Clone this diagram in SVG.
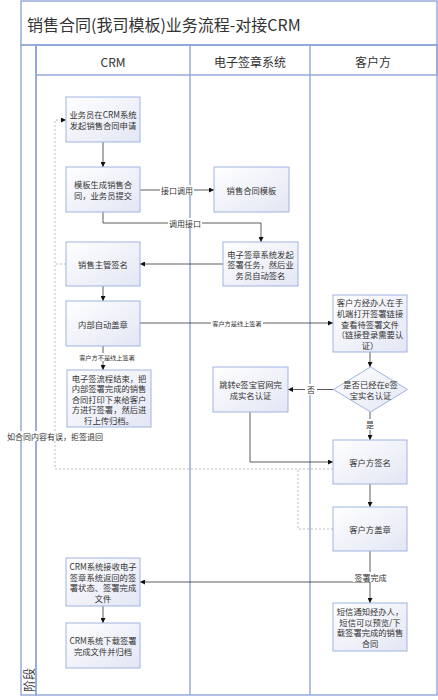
<svg xmlns="http://www.w3.org/2000/svg" width="438" height="700" viewBox="0 0 438 700">
<style>
.t{font-family:"Noto Sans CJK SC","Liberation Sans",sans-serif;fill:#333;text-anchor:middle;dominant-baseline:central}
.nt{font-size:8.3px}
.lb{font-size:8px}
.sm{font-size:6.2px}
.box{fill:url(#bg);stroke:#9fb3e2;stroke-width:1}
.lane{stroke:#8fa6d9;stroke-width:1.4;fill:none}
.c{stroke:#333;stroke-width:0.8;fill:none}
.d{stroke:#aaa;stroke-width:0.8;fill:none;stroke-dasharray:2,2}
.wb{fill:#fff}
</style>
<defs>
<linearGradient id="bg" x1="0" y1="0" x2="1" y2="1"><stop offset="0" stop-color="#ffffff"/><stop offset="1" stop-color="#e3e6f4"/></linearGradient>
<linearGradient id="tb" x1="0" y1="0" x2="1" y2="1"><stop offset="0" stop-color="#ebebf1"/><stop offset="1" stop-color="#fbfbfd"/></linearGradient>
<linearGradient id="hb" x1="0" y1="0" x2="0" y2="1"><stop offset="0" stop-color="#f1f2f8"/><stop offset="1" stop-color="#ffffff"/></linearGradient>
<marker id="a" viewBox="0 0 10 10" refX="10" refY="5" markerWidth="5" markerHeight="5" orient="auto" markerUnits="userSpaceOnUse"><path d="M0,0 L10,5 L0,10 z" fill="#111"/></marker>
</defs>
<rect x="0" y="0" width="438" height="700" fill="#fff"/>
<g id="frame">
<rect x="21" y="1" width="416" height="44" fill="url(#tb)" class="lane"/>
<text class="t" x="27" y="24" style="font-size:16px;text-anchor:start">销售合同(我司模板)业务流程-对接CRM</text>
<rect x="21" y="45" width="15" height="650" fill="#f4f5fb" class="lane"/>
<rect x="36" y="45" width="401" height="30" fill="url(#hb)" class="lane"/>
<rect x="36" y="45" width="401" height="650" class="lane"/>
<line x1="190" y1="45" x2="190" y2="695" class="lane"/>
<line x1="310" y1="45" x2="310" y2="695" class="lane"/>
<text class="t" x="113" y="61" style="font-size:12px">CRM</text>
<text class="t" x="250" y="61" style="font-size:12px">电子签章系统</text>
<text class="t" x="373" y="61" style="font-size:12px">客户方</text>
<text class="t" transform="translate(28.5,680) rotate(-90)" style="font-size:12px">阶段</text>
</g>
<g id="connectors">
<line x1="103" y1="142" x2="103" y2="167" class="c" marker-end="url(#a)"/>
<line x1="140" y1="190" x2="214" y2="190" class="c" marker-end="url(#a)"/>
<rect x="160" y="185" width="34" height="10" class="wb"/>
<text class="t lb" x="177" y="190">接口调用</text>
<polyline points="103,212 103,223 261,223 261,242" class="c" marker-end="url(#a)"/>
<rect x="168" y="218" width="34" height="10" class="wb"/>
<text class="t lb" x="185" y="223">调用接口</text>
<line x1="223" y1="264" x2="140" y2="264" class="c" marker-end="url(#a)"/>
<line x1="103" y1="286" x2="103" y2="301" class="c" marker-end="url(#a)"/>
<line x1="140" y1="323" x2="333" y2="323" class="c" marker-end="url(#a)"/>
<rect x="211" y="319" width="52" height="8" class="wb"/>
<text class="t sm" x="237" y="323">客户方是线上签署</text>
<line x1="103" y1="346" x2="103" y2="370" class="c" marker-end="url(#a)"/>
<rect x="77" y="353" width="60" height="8" class="wb"/>
<text class="t sm" x="107" y="357">客户方不是线上签署</text>
<line x1="370" y1="352" x2="370" y2="367" class="c" marker-end="url(#a)"/>
<line x1="334" y1="389.5" x2="288" y2="389.5" class="c" marker-end="url(#a)"/>
<rect x="305" y="384" width="12" height="11" class="wb"/>
<text class="t lb" x="311" y="389.5">否</text>
<line x1="370" y1="412" x2="370" y2="440" class="c" marker-end="url(#a)"/>
<rect x="364" y="419" width="12" height="11" class="wb"/>
<text class="t lb" x="370" y="424.5">是</text>
<polyline points="250,412 250,462 333,462" class="c" marker-end="url(#a)"/>
<line x1="370" y1="484" x2="370" y2="507" class="c" marker-end="url(#a)"/>
<line x1="370" y1="551" x2="370" y2="603" class="c" marker-end="url(#a)"/>
<line x1="370" y1="582" x2="140" y2="582" class="c" marker-end="url(#a)"/>
<rect x="353" y="572" width="35" height="10" class="wb"/>
<text class="t lb" x="370.5" y="577">签署完成</text>
<line x1="103" y1="606" x2="103" y2="623" class="c" marker-end="url(#a)"/>
<polyline points="333,469 55,469 55,120 66,120" class="d" marker-end="url(#a)"/>
<polyline points="333,529 298,529 298,469" class="d"/>
<line x1="66" y1="264" x2="55" y2="264" class="d"/>
<rect x="5" y="431" width="100" height="10" class="wb"/>
<text class="t lb" x="55" y="436">如合同内容有误，拒签退回</text>
</g>
<g id="n1"><rect x="66" y="97" width="74" height="45" class="box"/><text class="t nt" x="103" y="114">业务员在CRM系统</text><text class="t nt" x="103" y="125">发起销售合同申请</text></g>
<g id="n2"><rect x="66" y="167" width="74" height="45" class="box"/><text class="t nt" x="103" y="184">模板生成销售合</text><text class="t nt" x="103" y="195">同，业务员提交</text></g>
<g id="n3"><rect x="66" y="242" width="74" height="44" class="box"/><text class="t nt" x="103" y="264">销售主管签名</text></g>
<g id="n4"><rect x="66" y="301" width="74" height="45" class="box"/><text class="t nt" x="103" y="323.5">内部自动盖章</text></g>
<g id="n5"><rect x="67" y="370" width="84" height="57" class="box"/><text class="t nt" x="109" y="377.5">电子签流程结束，把</text><text class="t nt" x="109" y="388">内部签署完成的销售</text><text class="t nt" x="109" y="398.5">合同打印下来给客户</text><text class="t nt" x="109" y="409">方进行签署，然后进</text><text class="t nt" x="109" y="419.5">行上传归档。</text></g>
<g id="n6"><rect x="66" y="558" width="74" height="48" class="box"/><text class="t nt" x="103" y="566">CRM系统接收电子</text><text class="t nt" x="103" y="576.7">签章系统返回的签</text><text class="t nt" x="103" y="587.4">署状态、签署完成</text><text class="t nt" x="103" y="598">文件</text></g>
<g id="n7"><rect x="66" y="623" width="74" height="45" class="box"/><text class="t nt" x="103" y="640">CRM系统下载签署</text><text class="t nt" x="103" y="651">完成文件并归档</text></g>
<g id="n8"><rect x="214" y="167" width="75" height="45" class="box"/><text class="t nt" x="251.5" y="189.5">销售合同模板</text></g>
<g id="n9"><rect x="223" y="242" width="75" height="44" class="box"/><text class="t nt" x="260.5" y="253.5">电子签章系统发起</text><text class="t nt" x="260.5" y="264">签署任务，然后业</text><text class="t nt" x="260.5" y="274.5">务员自动签名</text></g>
<g id="n10"><rect x="213" y="367" width="75" height="45" class="box"/><text class="t nt" x="250.5" y="384">跳转e签宝官网完</text><text class="t nt" x="250.5" y="395">成实名认证</text></g>
<g id="n11"><rect x="333" y="295" width="74" height="57" class="box"/><text class="t nt" x="370" y="302">客户方经办人在手</text><text class="t nt" x="370" y="312.8">机端打开签署链接</text><text class="t nt" x="370" y="323.5">查看待签署文件</text><text class="t nt" x="370" y="334.2">（链接登录需要认</text><text class="t nt" x="370" y="345">证）</text></g>
<g id="n12"><polygon points="370.5,367 407.5,389.5 370.5,412 333.5,389.5" class="box"/><text class="t nt" x="370.5" y="384">是否已经在e签</text><text class="t nt" x="370.5" y="395">宝实名认证</text></g>
<g id="n13"><rect x="333" y="440" width="74" height="44" class="box"/><text class="t nt" x="370" y="462">客户方签名</text></g>
<g id="n14"><rect x="333" y="507" width="74" height="44" class="box"/><text class="t nt" x="370" y="529">客户方盖章</text></g>
<g id="n15"><rect x="333" y="603" width="74" height="48" class="box"/><text class="t nt" x="370" y="611">短信通知经办人，</text><text class="t nt" x="370" y="621.7">短信可以预览/下</text><text class="t nt" x="370" y="632.4">载签署完成的销售</text><text class="t nt" x="370" y="643">合同</text></g>
</svg>
